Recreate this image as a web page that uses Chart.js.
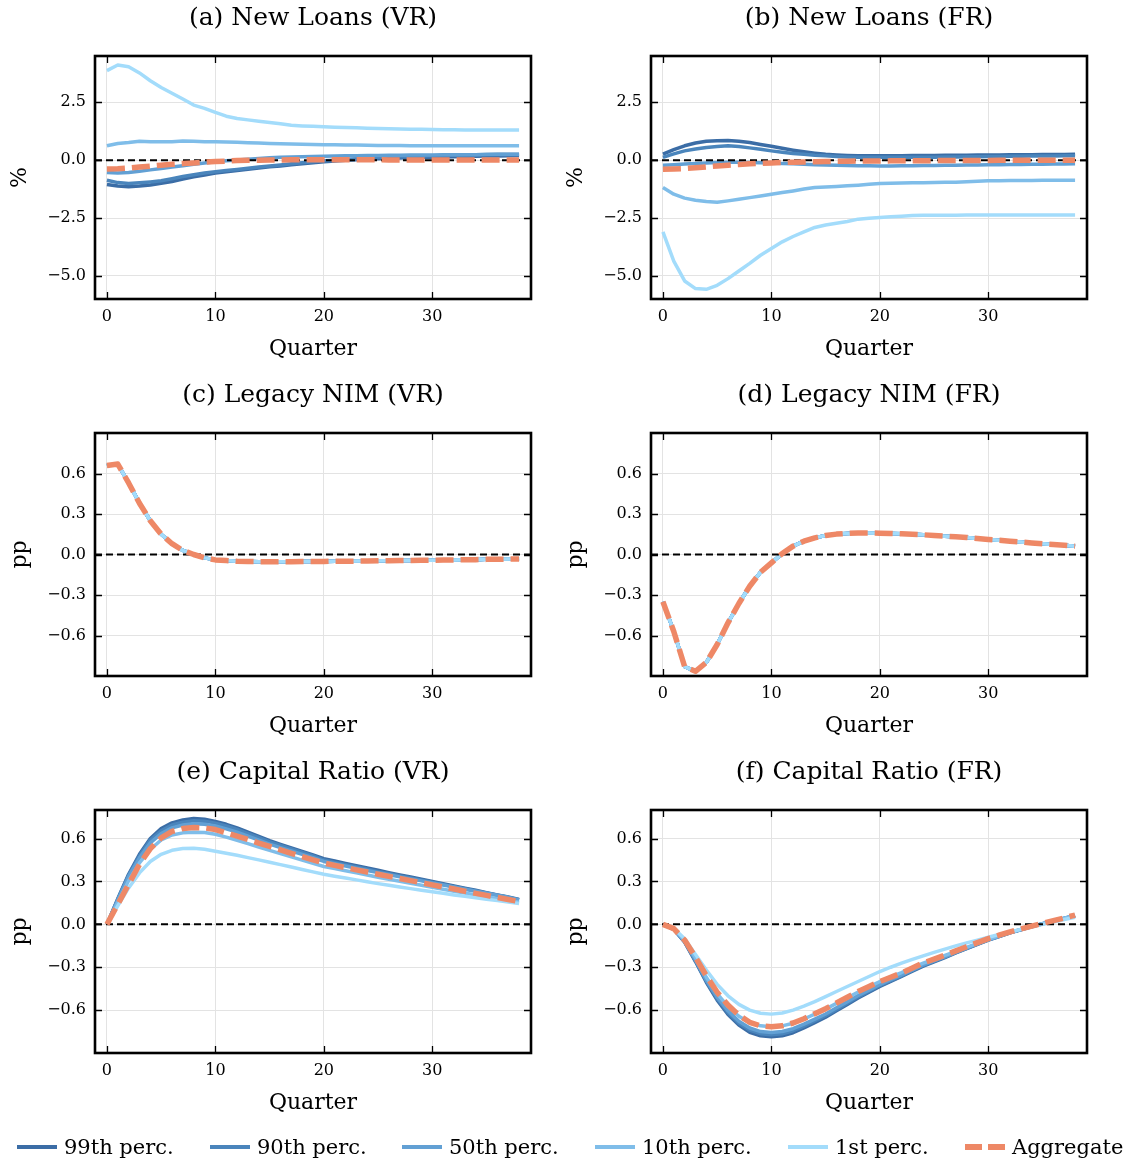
<!DOCTYPE html>
<html><head><meta charset="utf-8">
<script src="https://cdn.jsdelivr.net/npm/chart.js@4.4.1/dist/chart.umd.min.js"></script>
<style>
html,body{margin:0;padding:0;background:#fff;}
body{width:1133px;height:1163px;position:relative;overflow:hidden;font-family:'DejaVu Serif',serif;color:#000;}
canvas{position:absolute;}
.lg{position:absolute;top:1130px;height:34px;display:flex;align-items:center;font-size:21px;white-space:nowrap;}
.sw{width:40px;margin-right:7px;}
</style></head><body>
<script>
// ---------------- data ----------------
const quarters = [0,1,2,3,4,5,6,7,8,9,10,11,12,13,14,15,16,17,18,19,20,21,22,23,24,25,26,27,28,29,30,31,32,33,34,35,36,37,38];
const xTicks = [0,10,20,30];
const xRange = [-1.1, 39.1];
const yTicksLoans = [-5.0,-2.5,0.0,2.5];
const yTicksPP = [-0.6,-0.3,0.0,0.3,0.6];
const loansRange = [-6.0, 4.5];
const nimRange = [-0.9, 0.9];
const capRange = [-0.9, 0.8];

const seriesNames = ['99th perc.','90th perc.','50th perc.','10th perc.','1st perc.','Aggregate'];
const seriesColors = ['#3b6da6','#4a85bc','#62a0d4','#7fbde9','#a3dcfb','#ee8866'];
const panelTitles = ['(a) New Loans (VR)','(b) New Loans (FR)','(c) Legacy NIM (VR)','(d) Legacy NIM (FR)','(e) Capital Ratio (VR)','(f) Capital Ratio (FR)'];
const yAxisLabels = ['%','%','pp','pp','pp','pp'];
const xAxisLabel = 'Quarter';

// (a) New loans, variable rate
const loansVR_p99 = [-1.05,-1.12,-1.15,-1.12,-1.07,-1.00,-0.92,-0.82,-0.72,-0.64,-0.56,-0.50,-0.45,-0.39,-0.34,-0.29,-0.25,-0.20,-0.16,-0.11,-0.07,-0.04,-0.01,0.02,0.04,0.06,0.08,0.09,0.11,0.12,0.13,0.14,0.15,0.16,0.17,0.18,0.18,0.19,0.20];
const loansVR_p90 = [-0.87,-0.97,-1.01,-0.98,-0.94,-0.89,-0.80,-0.71,-0.63,-0.56,-0.50,-0.45,-0.40,-0.35,-0.30,-0.25,-0.21,-0.16,-0.11,-0.07,-0.03,0.00,0.03,0.06,0.09,0.12,0.13,0.15,0.16,0.18,0.19,0.20,0.21,0.22,0.23,0.24,0.25,0.25,0.26];
const loansVR_p50 = [-0.53,-0.56,-0.53,-0.48,-0.42,-0.36,-0.30,-0.24,-0.18,-0.12,-0.07,-0.03,0.01,0.04,0.07,0.10,0.12,0.14,0.15,0.16,0.17,0.18,0.19,0.19,0.20,0.20,0.21,0.21,0.22,0.22,0.22,0.23,0.23,0.23,0.23,0.24,0.24,0.24,0.24];
const loansVR_p10 = [0.62,0.72,0.76,0.82,0.80,0.79,0.80,0.83,0.82,0.80,0.79,0.78,0.77,0.75,0.74,0.72,0.71,0.70,0.69,0.68,0.66,0.66,0.65,0.65,0.64,0.63,0.63,0.63,0.62,0.62,0.62,0.62,0.62,0.62,0.62,0.62,0.62,0.62,0.62];
const loansVR_p1 = [3.87,4.11,4.04,3.77,3.43,3.14,2.89,2.64,2.38,2.24,2.06,1.90,1.80,1.74,1.68,1.63,1.57,1.51,1.48,1.46,1.44,1.42,1.41,1.40,1.38,1.37,1.36,1.35,1.34,1.33,1.32,1.31,1.31,1.30,1.30,1.30,1.30,1.30,1.30];
const loansVR_agg = [-0.38,-0.37,-0.34,-0.30,-0.26,-0.22,-0.18,-0.15,-0.12,-0.09,-0.06,-0.04,-0.02,-0.01,0.00,0.01,0.01,0.02,0.02,0.02,0.02,0.02,0.02,0.02,0.02,0.02,0.01,0.01,0.01,0.01,0.01,0.01,0.01,0.01,0.01,0.01,0.01,0.01,0.01];

// (b) New loans, fixed rate
const loansFR_p99 = [0.26,0.45,0.62,0.74,0.82,0.84,0.85,0.82,0.76,0.68,0.60,0.51,0.43,0.36,0.30,0.25,0.22,0.20,0.19,0.19,0.19,0.19,0.19,0.20,0.20,0.20,0.21,0.21,0.21,0.22,0.22,0.22,0.23,0.23,0.23,0.24,0.24,0.24,0.25];
const loansFR_p90 = [0.12,0.27,0.40,0.48,0.55,0.59,0.62,0.59,0.53,0.47,0.40,0.34,0.29,0.25,0.21,0.19,0.16,0.14,0.13,0.12,0.12,0.12,0.12,0.12,0.13,0.13,0.14,0.14,0.15,0.15,0.16,0.16,0.17,0.17,0.18,0.18,0.18,0.19,0.19];
const loansFR_p50 = [-0.22,-0.20,-0.17,-0.14,-0.12,-0.10,-0.09,-0.09,-0.10,-0.11,-0.12,-0.14,-0.16,-0.18,-0.20,-0.21,-0.22,-0.23,-0.24,-0.24,-0.25,-0.25,-0.24,-0.24,-0.23,-0.23,-0.22,-0.22,-0.21,-0.21,-0.20,-0.20,-0.19,-0.19,-0.18,-0.18,-0.17,-0.17,-0.16];
const loansFR_p10 = [-1.18,-1.47,-1.64,-1.73,-1.79,-1.82,-1.76,-1.69,-1.62,-1.55,-1.47,-1.40,-1.33,-1.25,-1.18,-1.16,-1.14,-1.11,-1.08,-1.04,-1.01,-1.00,-0.99,-0.98,-0.98,-0.97,-0.96,-0.95,-0.93,-0.91,-0.89,-0.89,-0.88,-0.88,-0.88,-0.87,-0.87,-0.87,-0.87];
const loansFR_p1 = [-3.10,-4.36,-5.22,-5.55,-5.58,-5.41,-5.12,-4.79,-4.46,-4.11,-3.82,-3.53,-3.30,-3.10,-2.91,-2.80,-2.73,-2.65,-2.55,-2.51,-2.48,-2.45,-2.42,-2.39,-2.38,-2.38,-2.38,-2.38,-2.37,-2.37,-2.37,-2.37,-2.37,-2.37,-2.37,-2.37,-2.37,-2.37,-2.37];
const loansFR_agg = [-0.39,-0.38,-0.36,-0.33,-0.29,-0.25,-0.22,-0.19,-0.16,-0.14,-0.12,-0.10,-0.09,-0.08,-0.07,-0.06,-0.05,-0.05,-0.04,-0.04,-0.04,-0.03,-0.03,-0.03,-0.03,-0.02,-0.02,-0.02,-0.02,-0.02,-0.02,-0.01,-0.01,-0.01,-0.01,-0.01,-0.01,-0.01,-0.01];

// (c) Legacy NIM, variable rate (all groups coincide)
const nimVR = [0.66,0.67,0.53,0.38,0.25,0.15,0.08,0.03,0.00,-0.025,-0.04,-0.045,-0.05,-0.052,-0.053,-0.053,-0.053,-0.053,-0.052,-0.052,-0.051,-0.05,-0.05,-0.049,-0.048,-0.047,-0.046,-0.045,-0.044,-0.043,-0.042,-0.041,-0.04,-0.039,-0.038,-0.036,-0.035,-0.034,-0.033];
// (d) Legacy NIM, fixed rate (all groups coincide)
const nimFR = [-0.35,-0.57,-0.83,-0.865,-0.80,-0.667,-0.506,-0.363,-0.235,-0.131,-0.062,0.007,0.062,0.099,0.123,0.141,0.151,0.156,0.16,0.16,0.158,0.156,0.153,0.15,0.146,0.141,0.136,0.131,0.126,0.118,0.111,0.105,0.099,0.093,0.086,0.08,0.074,0.068,0.062];

// (e) Capital ratio, variable rate
const capVR_p99 = [0,0.18,0.35,0.49,0.60,0.67,0.71,0.73,0.74,0.735,0.72,0.70,0.675,0.645,0.615,0.585,0.56,0.535,0.51,0.485,0.46,0.443,0.426,0.41,0.394,0.378,0.362,0.346,0.331,0.316,0.30,0.284,0.269,0.253,0.238,0.222,0.206,0.191,0.175];
const capVR_p90 = [0,0.175,0.345,0.48,0.59,0.655,0.695,0.715,0.725,0.722,0.708,0.688,0.664,0.635,0.606,0.577,0.552,0.527,0.503,0.479,0.45,0.433,0.417,0.401,0.385,0.369,0.354,0.339,0.324,0.309,0.294,0.279,0.264,0.249,0.234,0.219,0.204,0.189,0.172];
const capVR_p50 = [0,0.17,0.335,0.465,0.57,0.635,0.675,0.695,0.703,0.70,0.688,0.668,0.645,0.617,0.589,0.561,0.537,0.513,0.49,0.466,0.44,0.424,0.408,0.392,0.377,0.362,0.347,0.332,0.318,0.304,0.29,0.275,0.261,0.246,0.232,0.218,0.203,0.189,0.17];
const capVR_p10 = [0,0.155,0.305,0.43,0.525,0.59,0.625,0.64,0.645,0.642,0.63,0.61,0.588,0.565,0.541,0.518,0.495,0.472,0.449,0.427,0.405,0.39,0.375,0.36,0.345,0.33,0.315,0.301,0.287,0.273,0.259,0.245,0.232,0.219,0.206,0.193,0.18,0.167,0.155];
const capVR_p1 = [0,0.13,0.255,0.36,0.44,0.49,0.518,0.53,0.532,0.525,0.512,0.498,0.483,0.467,0.451,0.435,0.418,0.401,0.384,0.367,0.35,0.337,0.324,0.311,0.298,0.285,0.273,0.261,0.25,0.239,0.228,0.217,0.206,0.196,0.186,0.176,0.166,0.156,0.146];
const capVR_agg = [0,0.14,0.28,0.42,0.53,0.605,0.65,0.67,0.678,0.675,0.663,0.641,0.618,0.594,0.569,0.545,0.521,0.497,0.474,0.451,0.429,0.413,0.397,0.381,0.366,0.351,0.336,0.321,0.306,0.291,0.276,0.261,0.247,0.232,0.217,0.203,0.188,0.174,0.159];

// (f) Capital ratio, fixed rate
const capFR_p99 = [0,-0.035,-0.125,-0.26,-0.405,-0.53,-0.63,-0.705,-0.755,-0.78,-0.787,-0.78,-0.758,-0.725,-0.688,-0.65,-0.605,-0.56,-0.515,-0.475,-0.435,-0.4,-0.365,-0.328,-0.292,-0.262,-0.232,-0.2,-0.17,-0.14,-0.11,-0.085,-0.06,-0.038,-0.017,0.003,0.022,0.041,0.06];
const capFR_p90 = [0,-0.034,-0.122,-0.255,-0.398,-0.52,-0.618,-0.692,-0.74,-0.765,-0.772,-0.765,-0.744,-0.712,-0.676,-0.639,-0.595,-0.551,-0.507,-0.468,-0.428,-0.394,-0.36,-0.323,-0.288,-0.258,-0.229,-0.198,-0.168,-0.138,-0.109,-0.084,-0.059,-0.037,-0.016,0.004,0.023,0.042,0.061];
const capFR_p50 = [0,-0.033,-0.118,-0.248,-0.39,-0.51,-0.605,-0.678,-0.725,-0.75,-0.756,-0.75,-0.73,-0.698,-0.663,-0.627,-0.584,-0.541,-0.498,-0.46,-0.421,-0.387,-0.354,-0.318,-0.284,-0.255,-0.226,-0.196,-0.166,-0.137,-0.108,-0.083,-0.058,-0.036,-0.015,0.005,0.024,0.043,0.062];
const capFR_p10 = [0,-0.031,-0.112,-0.235,-0.37,-0.485,-0.575,-0.643,-0.688,-0.71,-0.716,-0.71,-0.692,-0.662,-0.628,-0.593,-0.553,-0.513,-0.473,-0.437,-0.4,-0.368,-0.337,-0.303,-0.271,-0.244,-0.217,-0.189,-0.161,-0.133,-0.105,-0.081,-0.057,-0.035,-0.015,0.005,0.024,0.043,0.062];
const capFR_p1 = [0,-0.028,-0.1,-0.21,-0.32,-0.42,-0.5,-0.56,-0.6,-0.622,-0.628,-0.62,-0.6,-0.572,-0.54,-0.505,-0.47,-0.435,-0.4,-0.365,-0.33,-0.3,-0.272,-0.245,-0.22,-0.196,-0.173,-0.151,-0.13,-0.11,-0.09,-0.071,-0.053,-0.035,-0.017,0,0.017,0.034,0.05];
const capFR_agg = [0,-0.03,-0.11,-0.23,-0.36,-0.475,-0.565,-0.635,-0.685,-0.71,-0.717,-0.71,-0.69,-0.66,-0.625,-0.59,-0.55,-0.51,-0.47,-0.435,-0.40,-0.37,-0.34,-0.305,-0.27,-0.243,-0.215,-0.186,-0.157,-0.128,-0.1,-0.076,-0.052,-0.032,-0.012,0.007,0.026,0.045,0.065];

// ---------------- layout / style ----------------
const FONT = "'DejaVu Serif', serif";
const colLeft = [0, 556], colWidth = [556, 577], colPadRight = [25, 46];
const rowTop = [0, 377, 754], rowHeight = 377;
const legendLefts = [17, 210, 402, 595, 788, 965];

Chart.defaults.font.family = FONT;
Chart.defaults.color = '#000';

const panels = [
  {title: panelTitles[0], yLabel: yAxisLabels[0], range: loansRange, yTicks: yTicksLoans, series: [loansVR_p99, loansVR_p90, loansVR_p50, loansVR_p10, loansVR_p1, loansVR_agg]},
  {title: panelTitles[1], yLabel: yAxisLabels[1], range: loansRange, yTicks: yTicksLoans, series: [loansFR_p99, loansFR_p90, loansFR_p50, loansFR_p10, loansFR_p1, loansFR_agg]},
  {title: panelTitles[2], yLabel: yAxisLabels[2], range: nimRange, yTicks: yTicksPP, series: [nimVR, nimVR, nimVR, nimVR, nimVR, nimVR]},
  {title: panelTitles[3], yLabel: yAxisLabels[3], range: nimRange, yTicks: yTicksPP, series: [nimFR, nimFR, nimFR, nimFR, nimFR, nimFR]},
  {title: panelTitles[4], yLabel: yAxisLabels[4], range: capRange, yTicks: yTicksPP, series: [capVR_p99, capVR_p90, capVR_p50, capVR_p10, capVR_p1, capVR_agg]},
  {title: panelTitles[5], yLabel: yAxisLabels[5], range: capRange, yTicks: yTicksPP, series: [capFR_p99, capFR_p90, capFR_p50, capFR_p10, capFR_p1, capFR_agg]}
];

const fmt = v => Number(v).toFixed(1).replace('-', '\u2212');

const mplFrame = {
  id: 'mplFrame',
  beforeDatasetDraw(chart, args) {
    const ds = chart.data.datasets[args.index];
    if (!ds.isAggregate) return;
    const {ctx, chartArea: {left, right, top, bottom}} = chart;
    const y = chart.scales.y.getPixelForValue(0);
    ctx.save();
    ctx.beginPath(); ctx.rect(left, top, right - left, bottom - top); ctx.clip();
    ctx.strokeStyle = '#000'; ctx.lineWidth = 2; ctx.setLineDash([7, 4]);
    ctx.beginPath(); ctx.moveTo(left, y); ctx.lineTo(right, y); ctx.stroke();
    ctx.restore();
  },
  afterDraw(chart) {
    const {ctx, chartArea: {left, right, top, bottom}} = chart;
    const sx = chart.scales.x, sy = chart.scales.y, tl = 7;
    ctx.save();
    ctx.strokeStyle = '#000'; ctx.lineWidth = 1.3; ctx.setLineDash([]);
    sx.ticks.forEach(t => {
      const x = Math.round(sx.getPixelForValue(t.value)) + 0.5;
      ctx.beginPath(); ctx.moveTo(x, bottom); ctx.lineTo(x, bottom - tl);
      ctx.moveTo(x, top); ctx.lineTo(x, top + tl); ctx.stroke();
    });
    sy.ticks.forEach(t => {
      const y = Math.round(sy.getPixelForValue(t.value)) + 0.5;
      ctx.beginPath(); ctx.moveTo(left, y); ctx.lineTo(left + tl, y);
      ctx.moveTo(right, y); ctx.lineTo(right - tl, y); ctx.stroke();
    });
    ctx.lineWidth = 2.6;
    ctx.strokeRect(left, top, right - left, bottom - top);
    ctx.restore();
  }
};

panels.forEach((p, idx) => {
  const col = idx % 2, row = Math.floor(idx / 2);
  const cv = document.createElement('canvas');
  cv.width = colWidth[col]; cv.height = rowHeight;
  cv.style.left = colLeft[col] + 'px'; cv.style.top = rowTop[row] + 'px';
  cv.style.width = colWidth[col] + 'px'; cv.style.height = rowHeight + 'px';
  document.body.appendChild(cv);
  new Chart(cv, {
    type: 'line',
    data: {
      datasets: p.series.map((vals, k) => ({
        label: seriesNames[k],
        data: vals.map((v, i) => ({x: quarters[i], y: v})),
        borderColor: seriesColors[k],
        backgroundColor: seriesColors[k],
        borderWidth: k === 5 ? 5.5 : 3.5,
        borderDash: k === 5 ? [18, 7] : [],
        borderCapStyle: 'butt',
        borderJoinStyle: 'round',
        pointRadius: 0, pointHoverRadius: 0,
        tension: 0, fill: false,
        order: 5 - k,
        isAggregate: k === 5
      }))
    },
    options: {
      animation: false, responsive: false, devicePixelRatio: 1,
      events: [],
      layout: {padding: {left: 0, right: colPadRight[col], top: 0, bottom: 0}},
      plugins: {
        legend: {display: false},
        tooltip: {enabled: false},
        title: {display: false}
      },
      scales: {
        x: {
          type: 'linear', min: xRange[0], max: xRange[1],
          afterBuildTicks: s => { s.ticks = xTicks.map(v => ({value: v})); },
          ticks: {font: {size: 16}, padding: 8, maxRotation: 0, autoSkip: false, callback: v => String(v)},
          grid: {color: '#e3e3e3', lineWidth: 1, drawTicks: false},
          border: {display: false},
          title: {display: true, text: xAxisLabel, font: {size: 22}, padding: {top: 0, bottom: 15}},
          afterFit: s => { s.height = 78; }
        },
        xTitle: {
          type: 'linear', position: 'top', min: xRange[0], max: xRange[1],
          ticks: {display: false},
          grid: {display: false, drawTicks: false},
          border: {display: false},
          title: {display: true, text: p.title, color: '#000',
                  font: {family: FONT, size: 25, weight: 'normal'},
                  padding: {top: 3, bottom: 0}},
          afterFit: s => { s.height = 56; }
        },
        y: {
          type: 'linear', min: p.range[0], max: p.range[1],
          afterBuildTicks: s => { s.ticks = p.yTicks.map(v => ({value: v})); },
          ticks: {font: {size: 16}, padding: 9, autoSkip: false, callback: v => fmt(v)},
          grid: {color: '#e3e3e3', lineWidth: 1, drawTicks: false},
          border: {display: false},
          title: {display: true, text: p.yLabel, font: {size: 22}, padding: {top: 7, bottom: 0}},
          afterFit: s => { s.width = 95; }
        }
      }
    },
    plugins: [mplFrame]
  });
});

// legend
seriesNames.forEach((name, k) => {
  const item = document.createElement('div');
  item.className = 'lg';
  item.style.left = legendLefts[k] + 'px';
  const sw = document.createElement('div');
  sw.className = 'sw';
  if (k === 5) {
    sw.style.height = '6px';
    sw.style.background = 'repeating-linear-gradient(90deg,' + seriesColors[k] + ' 0 17px, transparent 17px 23px)';
  } else {
    sw.style.height = '4.5px';
    sw.style.background = seriesColors[k];
  }
  item.appendChild(sw);
  const tx = document.createElement('span');
  tx.textContent = name;
  item.appendChild(tx);
  document.body.appendChild(item);
});
</script>
</body></html>
